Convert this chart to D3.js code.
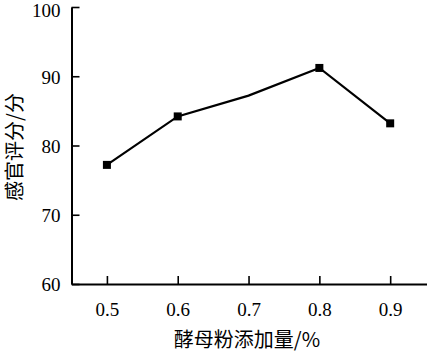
<!DOCTYPE html>
<html><head><meta charset="utf-8">
<script src="https://cdn.jsdelivr.net/npm/d3@7"></script>
<style>body{margin:0;background:#fff}svg{display:block}</style>
</head><body><svg id="c" width="427" height="353"></svg>
<script>
const xValues = [0.5, 0.6, 0.7, 0.8, 0.9];
const scores = [77.2, 84.2, 87.2, 91.2, 83.2];
const markerShown = [true, true, false, true, true];
const xTicks = [0.5, 0.6, 0.7, 0.8, 0.9];
const yTicks = [60, 70, 80, 90, 100];
const xTitle = "酵母粉添加量/%";
const yTitle = "感官评分/分";

const svg = d3.select("#c");
const x = d3.scaleLinear().domain([0.45, 0.952]).range([71.5, 427]);
const y = d3.scaleLinear().domain([60, 100]).range([284, 7]);
const serif = "Liberation Serif";
const cjk = "Noto Sans CJK SC";

const gx = svg.append("g").attr("transform", "translate(0,284)")
  .call(d3.axisBottom(x).tickValues(xTicks).tickSizeInner(-8).tickSizeOuter(0).tickPadding(19).tickFormat(d3.format(".1f")));
const gy = svg.append("g").attr("transform", "translate(71.5,0)")
  .call(d3.axisLeft(y).tickValues(yTicks).tickSizeInner(-8).tickSizeOuter(0).tickPadding(11).tickFormat(d3.format("d")));
[gx, gy].forEach(g => {
  g.attr("font-family", serif).attr("font-size", 19);
  g.select(".domain").attr("stroke", "#000").attr("stroke-width", 2);
  g.selectAll(".tick line").attr("stroke", "#000").attr("stroke-width", 1.6);
  g.selectAll(".tick text").attr("fill", "#000");
});
gy.selectAll(".tick text").attr("dy", "0.36em");
gy.selectAll(".tick").filter(d => d === 100).select("text").attr("dy", "0.5em");

svg.append("path")
  .datum(xValues.map((v, i) => [v, scores[i]]))
  .attr("fill", "none").attr("stroke", "#000").attr("stroke-width", 2.2)
  .attr("d", d3.line().x(d => x(d[0])).y(d => y(d[1])));

const ms = 8;
svg.selectAll("rect.m").data(xValues.map((v, i) => ({v, s: scores[i], show: markerShown[i]})).filter(d => d.show))
  .enter().append("rect").attr("class", "m")
  .attr("x", d => x(d.v) - ms / 2).attr("y", d => y(d.s) - ms / 2)
  .attr("width", ms).attr("height", ms).attr("fill", "#000");

svg.append("text").attr("x", 247).attr("y", 347).attr("text-anchor", "middle")
  .attr("font-family", cjk).attr("font-size", 20).attr("fill", "#000").text(xTitle);
svg.append("text").attr("transform", "translate(13,147) rotate(-90)").attr("text-anchor", "middle")
  .attr("dominant-baseline", "central")
  .attr("font-family", cjk).attr("font-size", 20).attr("fill", "#000").text(yTitle);
</script></body></html>
